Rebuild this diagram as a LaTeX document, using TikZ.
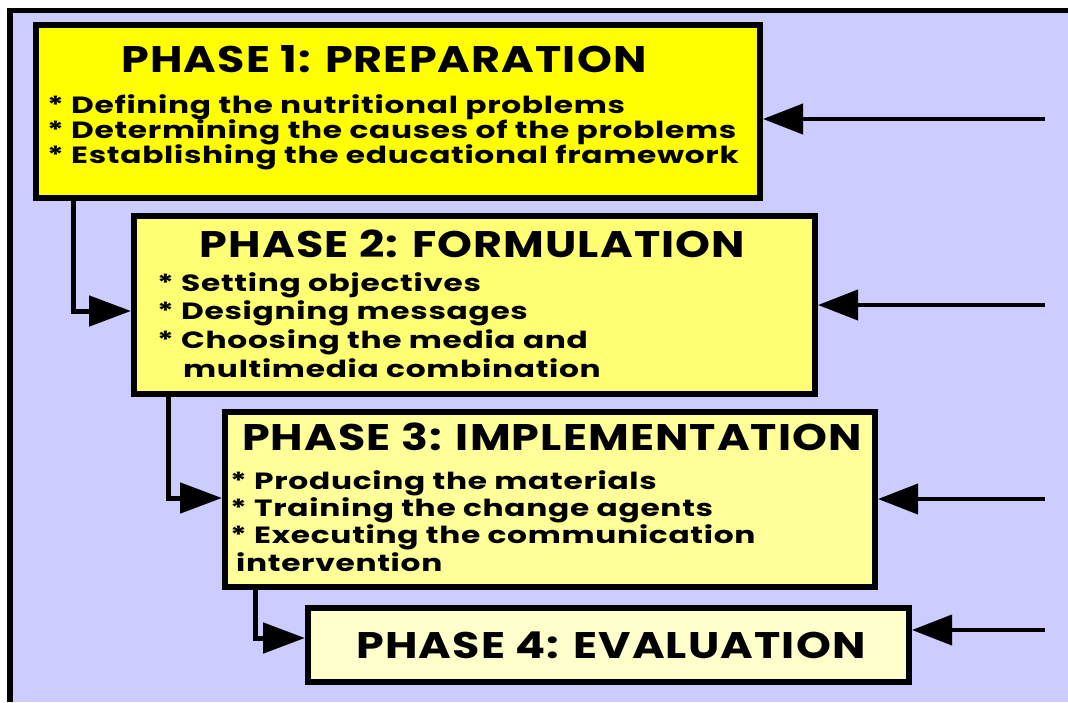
\documentclass[tikz,border=0pt]{standalone}
\usepackage{fontspec}
\setmainfont{Poppins}
\newfontfamily\headfont{Poppins}[FakeStretch=1.2, LetterSpace=3]
\newfontfamily\itemfont{Poppins}[FakeStretch=1.33, LetterSpace=3]
\usetikzlibrary{arrows.meta}
\definecolor{lav}{HTML}{CCCCFF}
\definecolor{fillA}{HTML}{FFFF00}
\definecolor{fillB}{HTML}{FFFF73}
\definecolor{fillC}{HTML}{FFFF99}
\definecolor{fillD}{HTML}{FFFFCC}
\begin{document}
\begin{tikzpicture}[x=1pt,y=-1pt,
  phasebox/.style={draw=black, line width=6pt, inner sep=0pt, anchor=center},
  head/.style={font=\headfont\fontsize{37}{37}\selectfont\bfseries, inner sep=0pt, anchor=base},
  item/.style={font=\itemfont\fontsize{23.5}{23.5}\selectfont\bfseries, inner sep=0pt, anchor=base west},
  flow/.style={line width=5pt, -{Triangle[length=42pt,width=30pt]}},
  feed/.style={line width=4pt, -{Triangle[length=40pt,width=30pt]}}]
\useasboundingbox (0,0) rectangle (1068,702);
% background panel with its frame on the top and left
\fill[white] (0,0) rectangle (1068,702);
\fill[lav] (10,10) rectangle (1068,702);
\draw[line width=5.5pt] (10,702) -- (10,10.5) -- (1068,10.5);

% phase boxes
\node[phasebox, fill=fillA, minimum width=724pt, minimum height=173pt] (p1) at (398,111.5) {};
\node[phasebox, fill=fillB, minimum width=681pt, minimum height=178pt] (p2) at (474.5,305) {};
\node[phasebox, fill=fillC, minimum width=650pt, minimum height=175pt] (p3) at (550,499.5) {};
\node[phasebox, fill=fillD, minimum width=601pt, minimum height=74pt] (p4) at (608.5,645) {};

% phase 1 text
\node[head] (h1) at (384,72) {PHASE 1: PREPARATION};
\node[item] (a1) at (47,113) {* Defining the nutritional problems};
\node[item] (a2) at (47,138) {* Determining the causes of the problems};
\node[item] (a3) at (47,163) {* Establishing the educational framework};

% phase 2 text
\node[head] (h2) at (472.5,257) {PHASE 2: FORMULATION};
\node[item] (b1) at (157,291) {* Setting objectives};
\node[item] (b2) at (157,319) {* Designing messages};
\node[item] (b3) at (157,348) {* Choosing the media and};
\node[item] (b4) at (183,377) {multimedia combination};

% phase 3 text
\node[head] (h3) at (552,450) {PHASE 3: IMPLEMENTATION};
\node[item] (c1) at (230,489) {* Producing the materials};
\node[item] (c2) at (230,516) {* Training the change agents};
\node[item] (c3) at (230,543) {* Executing the communication};
\node[item] (c4) at (236,571) {intervention};

% phase 4 text
\node[head] (h4) at (611,658) {PHASE 4: EVALUATION};

% flow from one phase to the next
\coordinate (k1) at (73,311);
\coordinate (k2) at (168,498);
\coordinate (k3) at (255,638);
\draw[flow] (k1 |- p1.south) -- (k1) -- (k1 -| p2.west);
\draw[flow] (k2 |- p2.south) -- (k2) -- (k2 -| p3.west);
\draw[flow] (k3 |- p3.south) -- (k3) -- (k3 -| p4.west);

% feedback arrows entering from the right
\coordinate (f1) at (1045,119);
\coordinate (f2) at (1045,305);
\coordinate (f3) at (1045,499);
\coordinate (f4) at (1045,630);
\draw[feed] (f1) -- (f1 -| p1.east);
\draw[feed] (f2) -- (f2 -| p2.east);
\draw[feed] (f3) -- (f3 -| p3.east);
\draw[feed] (f4) -- (f4 -| p4.east);
\end{tikzpicture}
\end{document}
